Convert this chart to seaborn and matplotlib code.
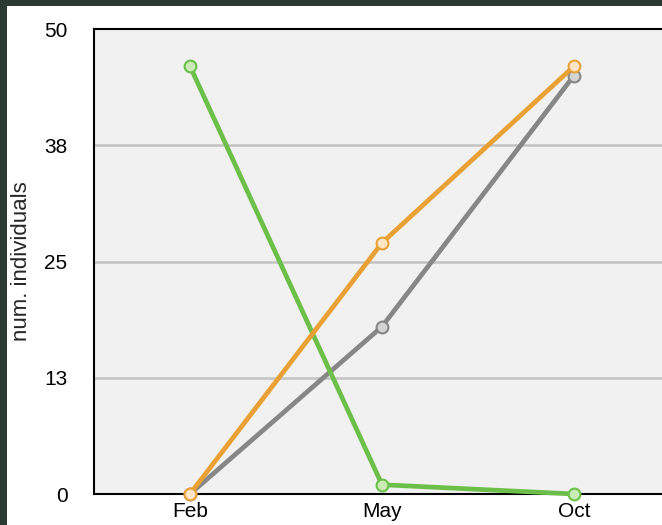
import pandas as pd
import matplotlib
matplotlib.use("Agg")
import matplotlib.pyplot as plt
import seaborn as sns

# data
months = ["Feb", "May", "Oct"]
gray_vals = [0, 18, 45]
green_vals = [46, 1, 0]
orange_vals = [0, 27, 46]
y_ticks = [0, 12.5, 25, 37.5, 50]
y_tick_labels = ["0", "13", "25", "38", "50"]

df = pd.DataFrame({
    "month": months * 3,
    "x": [0, 1, 2] * 3,
    "value": gray_vals + green_vals + orange_vals,
    "series": ["gray"] * 3 + ["green"] * 3 + ["orange"] * 3,
})

line_colors = {"gray": "#878787", "green": "#6cc04a", "orange": "#e9a135"}
fill_colors = {"gray": "#d4d4d4", "green": "#c9ebb5", "orange": "#fde5c6"}

sns.set_style("white")
plt.rcParams["font.family"] = ["Liberation Sans", "DejaVu Sans"]

fig = plt.figure(figsize=(6.62, 5.25), dpi=100)
fig.patch.set_facecolor("#2b3a33")
bg = plt.Rectangle((7 / 662, 0), 1, 1 - 6 / 525, transform=fig.transFigure,
                   facecolor="white", edgecolor="none", zorder=-10)
fig.add_artist(bg)

ax = fig.add_axes([94 / 662, 31 / 525, 576 / 662, 465 / 525])
ax.set_zorder(1)
ax.set_facecolor("#f1f1f1")

for name in ["gray", "green", "orange"]:
    sub = df[df["series"] == name]
    sns.lineplot(data=sub, x="x", y="value", ax=ax, color=line_colors[name],
                 linewidth=3.4, marker="o", markersize=8.5,
                 markerfacecolor=fill_colors[name],
                 markeredgecolor=line_colors[name], markeredgewidth=1.5,
                 clip_on=False, zorder=3)

ax.set_xlim(-0.5, 2.5)
ax.set_ylim(0, 50)
ax.set_xticks([0, 1, 2])
ax.set_xticklabels(months)
ax.set_yticks(y_ticks)
ax.set_yticklabels(y_tick_labels)
ax.tick_params(axis="both", length=0, labelsize=15, colors="black")
ax.tick_params(axis="y", pad=19)
ax.tick_params(axis="x", pad=6)

for v in [12.5, 25, 37.5]:
    ax.axhline(v, color="#c3c3c3", linewidth=1.8, zorder=1)

for side in ["left", "bottom", "top"]:
    ax.spines[side].set_color("black")
    ax.spines[side].set_linewidth(1.5)
ax.spines["right"].set_visible(False)

ax.set_xlabel("")
ax.set_ylabel("num. individuals", fontsize=16, labelpad=9)

plt.savefig("out.png", dpi=100)
